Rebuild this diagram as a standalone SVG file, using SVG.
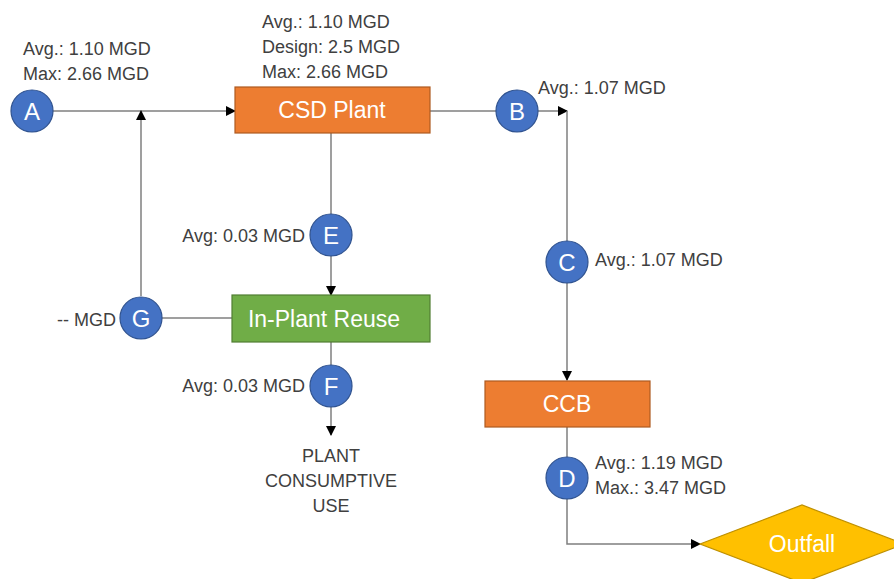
<svg xmlns="http://www.w3.org/2000/svg" width="894" height="579" viewBox="0 0 894 579">
<defs>
<style>
.lbl{font-family:"Liberation Sans",Arial,sans-serif;font-size:18px;fill:#404040}
.cir{fill:#4472C4;stroke:#2F528F;stroke-width:1.2}
.ct{font-family:"Liberation Sans",Arial,sans-serif;font-size:24px;fill:#fff;text-anchor:middle}
.bt{font-family:"Liberation Sans",Arial,sans-serif;font-size:23px;fill:#fff;text-anchor:middle}
.ln{fill:none;stroke:#7F7F7F;stroke-width:1.5}
</style>
<marker id="ah" markerWidth="10" markerHeight="10" refX="9" refY="5" orient="auto" markerUnits="userSpaceOnUse">
<path d="M0,0 L10,5 L0,10 Z" fill="#000"/>
</marker>
</defs>
<rect width="894" height="579" fill="#fff"/>
<g id="connectors">
<line class="ln" x1="53" y1="111" x2="235" y2="111" marker-end="url(#ah)"/>
<line class="ln" x1="141" y1="296" x2="141" y2="111" marker-end="url(#ah)"/>
<line class="ln" x1="430" y1="111" x2="496" y2="111"/>
<line class="ln" x1="538" y1="111" x2="567" y2="111" marker-end="url(#ah)"/>
<line class="ln" x1="567" y1="111" x2="567" y2="241"/>
<line class="ln" x1="567" y1="283" x2="567" y2="380" marker-end="url(#ah)"/>
<line class="ln" x1="567" y1="427" x2="567" y2="457"/>
<path class="ln" d="M567,499 V544 H700" marker-end="url(#ah)"/>
<line class="ln" x1="331" y1="133" x2="331" y2="214"/>
<line class="ln" x1="331" y1="256" x2="331" y2="295" marker-end="url(#ah)"/>
<line class="ln" x1="162" y1="318" x2="232" y2="318"/>
<line class="ln" x1="331" y1="342" x2="331" y2="365"/>
<line class="ln" x1="331" y1="407" x2="331" y2="435" marker-end="url(#ah)"/>
</g>
<g id="node-A">
<circle class="cir" cx="32" cy="111" r="21"/>
<text class="ct" x="32" y="120">A</text>
<text class="lbl" x="23" y="55">Avg.: 1.10 MGD</text>
<text class="lbl" x="23" y="80">Max: 2.66 MGD</text>
</g>
<g id="node-csd">
<rect x="235" y="87" width="195" height="46" fill="#ED7D31" stroke="#AE5A21" stroke-width="1.2"/>
<text class="bt" x="332" y="118">CSD Plant</text>
<text class="lbl" x="262" y="28">Avg.: 1.10 MGD</text>
<text class="lbl" x="262" y="53">Design: 2.5 MGD</text>
<text class="lbl" x="262" y="78">Max: 2.66 MGD</text>
</g>
<g id="node-B">
<circle class="cir" cx="517" cy="111" r="21"/>
<text class="ct" x="517" y="120">B</text>
<text class="lbl" x="538" y="94">Avg.: 1.07 MGD</text>
</g>
<g id="node-C">
<circle class="cir" cx="567" cy="262" r="21"/>
<text class="ct" x="567" y="271">C</text>
<text class="lbl" x="595" y="266">Avg.: 1.07 MGD</text>
</g>
<g id="node-ccb">
<rect x="485" y="381" width="165" height="46" fill="#ED7D31" stroke="#AE5A21" stroke-width="1.2"/>
<text class="bt" x="567" y="412">CCB</text>
</g>
<g id="node-D">
<circle class="cir" cx="567" cy="478" r="21"/>
<text class="ct" x="567" y="487">D</text>
<text class="lbl" x="595" y="469">Avg.: 1.19 MGD</text>
<text class="lbl" x="595" y="494">Max.: 3.47 MGD</text>
</g>
<g id="node-outfall">
<polygon points="700,544 802,505 904,544 802,583" fill="#FFC000" stroke="#BF9000" stroke-width="1.2"/>
<text class="bt" x="802" y="552">Outfall</text>
</g>
<g id="node-E">
<circle class="cir" cx="331" cy="235" r="21"/>
<text class="ct" x="331" y="244">E</text>
<text class="lbl" x="305" y="242" text-anchor="end">Avg: 0.03 MGD</text>
</g>
<g id="node-reuse">
<rect x="232" y="295" width="198" height="47" fill="#70AD47" stroke="#507E32" stroke-width="1.2"/>
<text class="bt" x="324" y="327">In-Plant Reuse</text>
</g>
<g id="node-G">
<circle class="cir" cx="141" cy="318" r="21"/>
<text class="ct" x="141" y="327">G</text>
<text class="lbl" x="116" y="326" text-anchor="end">-- MGD</text>
</g>
<g id="node-F">
<circle class="cir" cx="331" cy="386" r="21"/>
<text class="ct" x="331" y="395">F</text>
<text class="lbl" x="305" y="392" text-anchor="end">Avg: 0.03 MGD</text>
</g>
<g id="node-use">
<text class="lbl" x="331" y="462" text-anchor="middle">PLANT</text>
<text class="lbl" x="331" y="487" text-anchor="middle">CONSUMPTIVE</text>
<text class="lbl" x="331" y="512" text-anchor="middle">USE</text>
</g>
</svg>
